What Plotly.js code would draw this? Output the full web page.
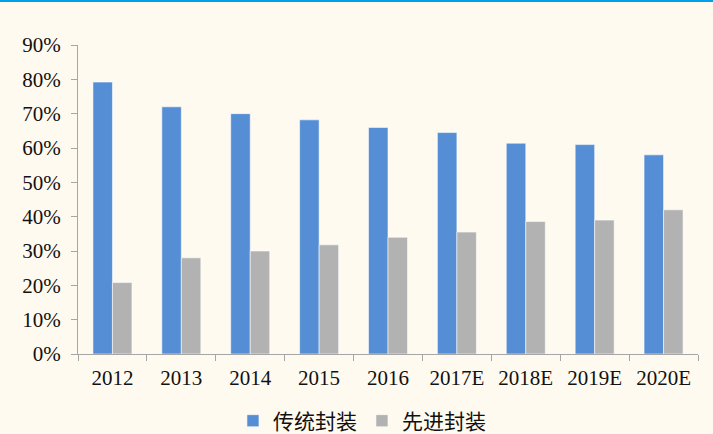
<!DOCTYPE html>
<html>
<head>
<meta charset="utf-8">
<script src="https://cdn.plot.ly/plotly-3.0.1.min.js"></script>
<style>
  html, body { margin: 0; padding: 0; background: #FFFAF0; }
  #wrap { position: relative; width: 713px; height: 434px; }
  #topline { position: absolute; left: 0; top: 0; width: 713px; height: 1.5px; background: #00A0E9; z-index: 5; }
  #chart { width: 713px; height: 434px; }
</style>
</head>
<body>
<div id="wrap">
  <div id="topline"></div>
  <div id="chart"></div>
</div>
<script>
// Share of packaging market: traditional vs advanced packaging
const years = ['2012', '2013', '2014', '2015', '2016', '2017E', '2018E', '2019E', '2020E'];
const traditional = [0.792, 0.72, 0.70, 0.682, 0.66, 0.645, 0.614, 0.61, 0.58];
const advanced = [0.208, 0.28, 0.30, 0.318, 0.34, 0.355, 0.386, 0.39, 0.42];
const seriesNames = ['传统封装', '先进封装'];
const yTicks = [0, 0.1, 0.2, 0.3, 0.4, 0.5, 0.6, 0.7, 0.8, 0.9];

const axisColor = '#A6A6A6';
const fontFamily = '"Liberation Serif", "Times New Roman", "Noto Sans CJK SC", serif';

const traces = [
  {
    type: 'bar', name: seriesNames[0], x: years, y: traditional,
    marker: { color: '#558ED5', line: { color: 'rgba(255,255,255,0.55)', width: 1 } },
    hoverinfo: 'skip'
  },
  {
    type: 'bar', name: seriesNames[1], x: years, y: advanced,
    marker: { color: '#B2B2B2', line: { color: 'rgba(255,255,255,0.55)', width: 1 } },
    hoverinfo: 'skip'
  }
];

const layout = {
  width: 713, height: 434,
  paper_bgcolor: '#FFFAF0', plot_bgcolor: '#FFFAF0',
  margin: { l: 78, r: 15, t: 45, b: 80, autoexpand: false },
  barmode: 'group', bargap: 0.434, bargroupgap: 0,
  font: { family: fontFamily, size: 21, color: '#111111' },
  xaxis: {
    type: 'category', showgrid: false, zeroline: false,
    showline: true, linecolor: axisColor, linewidth: 1,
    ticks: 'outside', tickson: 'boundaries', ticklen: 6, tickcolor: axisColor, tickwidth: 1,
    ticklabelstandoff: 5,
    tickfont: { family: fontFamily, size: 21, color: '#111111' }
  },
  yaxis: {
    range: [0, 0.9], tickvals: yTicks, tickformat: '.0%',
    showgrid: false, zeroline: false,
    showline: true, linecolor: axisColor, linewidth: 1,
    ticks: 'outside', ticklen: 6, tickcolor: axisColor, tickwidth: 1,
    ticklabelstandoff: 6,
    tickfont: { family: fontFamily, size: 21, color: '#111111' }
  },
  showlegend: true,
  legend: {
    orientation: 'h', x: 0.458, xanchor: 'center', y: -0.217, yanchor: 'middle',
    font: { family: '"Noto Sans CJK SC", sans-serif', size: 21, color: '#111111' },
    bgcolor: 'rgba(0,0,0,0)', itemwidth: 30, tracegroupgap: 0
  }
};

Plotly.newPlot('chart', traces, layout, { displayModeBar: false, staticPlot: true });
</script>
</body>
</html>
